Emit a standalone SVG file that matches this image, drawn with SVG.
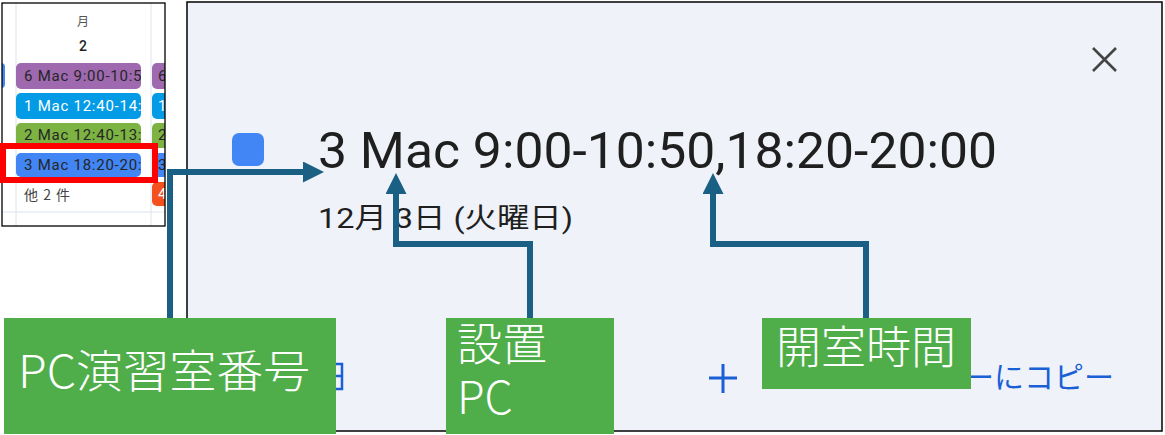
<svg xmlns="http://www.w3.org/2000/svg" width="1165" height="435" viewBox="0 0 1165 435">
<style>
.ev{font-family:Roboto,"Liberation Sans","Noto Sans CJK JP",sans-serif;font-size:15px;letter-spacing:0.75px}
.dk{fill:#262626}
.lbl{font-family:"Noto Sans CJK JP",sans-serif;font-weight:300;font-size:45px;fill:#ffffff}
.conn{fill:none;stroke:#1a6085;stroke-width:6}
.gbox{fill:#50ae4a}
</style>
<defs>
<marker id="ah" viewBox="0 0 20 20" markerUnits="userSpaceOnUse" markerWidth="21" markerHeight="21" refX="0" refY="10" orient="auto">
<path d="M0,0 L20,10 L0,20 z" fill="#1a6085"/>
</marker>
<clipPath id="thumb"><rect x="2" y="3" width="163" height="223"/></clipPath>
<clipPath id="c1"><rect x="16" y="63" width="125" height="26"/></clipPath>
<clipPath id="c2"><rect x="16" y="93" width="125" height="26"/></clipPath>
<clipPath id="c3"><rect x="16" y="123" width="125" height="25"/></clipPath>
<clipPath id="c4"><rect x="16" y="153" width="125" height="24"/></clipPath>
</defs>
<rect width="1165" height="435" fill="#ffffff"/>

<g id="calendar-thumb">
<rect x="2" y="3" width="163" height="223" fill="#ffffff"/>
<g clip-path="url(#thumb)">
<line x1="16" y1="3" x2="16" y2="226" stroke="#dde3ea" stroke-width="1"/>
<line x1="151" y1="3" x2="151" y2="226" stroke="#dde3ea" stroke-width="1"/>
<line x1="2" y1="212" x2="165" y2="212" stroke="#dde3ea" stroke-width="1"/>
<rect x="-6" y="63" width="11" height="25" rx="4" fill="#4285f4"/>
<text x="83" y="26" text-anchor="middle" font-family="'Noto Sans CJK JP',sans-serif" font-size="12" fill="#555">月</text>
<text x="83" y="51" text-anchor="middle" font-family="Roboto,sans-serif" font-size="14" font-weight="500" fill="#1f1f1f">2</text>
<rect x="16" y="63" width="125" height="26" rx="5" fill="#9e69af"/>
<text class="ev dk" x="24" y="81" clip-path="url(#c1)">6 Mac 9:00-10:5</text>
<rect x="16" y="93" width="125" height="26" rx="5" fill="#039be5"/>
<text class="ev" x="24" y="111" fill="#ffffff" clip-path="url(#c2)">1 Mac 12:40-14:5</text>
<rect x="16" y="123" width="125" height="25" rx="5" fill="#7cb342"/>
<text class="ev dk" x="24" y="140" clip-path="url(#c3)">2 Mac 12:40-13:1</text>
<rect x="16" y="153" width="125" height="24" rx="5" fill="#4285f4"/>
<text class="ev dk" x="24" y="170" clip-path="url(#c4)">3 Mac 18:20-20:</text>
<text x="24" y="200" font-family="'Noto Sans CJK JP',sans-serif" font-size="14" fill="#444" letter-spacing="1">他 2 件</text>
<rect x="152" y="63" width="30" height="26" rx="5" fill="#9e69af"/>
<text class="ev dk" x="158" y="81">6</text>
<rect x="152" y="93" width="30" height="26" rx="5" fill="#039be5"/>
<text class="ev" x="158" y="111" fill="#ffffff">1</text>
<rect x="152" y="123" width="30" height="25" rx="5" fill="#7cb342"/>
<text class="ev dk" x="158" y="140">2</text>
<rect x="152" y="153" width="30" height="24" rx="5" fill="#4285f4"/>
<text class="ev dk" x="158" y="170">3</text>
<rect x="152" y="182" width="30" height="24" rx="5" fill="#f4511e"/>
<text class="ev" x="158" y="199" fill="#ffffff">4</text>
</g>
<rect x="2" y="3" width="163" height="223" fill="none" stroke="#000" stroke-width="1.3"/>
</g>

<g id="highlight">
<rect x="3" y="146" width="152" height="34" fill="none" stroke="#ff0000" stroke-width="6"/>
</g>

<g id="detail-panel">
<rect x="187" y="2" width="975" height="429" fill="#eff2f8" stroke="#000" stroke-width="1.5"/>
<path d="M1093,48 L1116,71 M1116,48 L1093,71" stroke="#444" stroke-width="2.6" fill="none"/>
<rect x="232" y="133" width="32" height="33" rx="7" fill="#4285f4"/>
<text x="318" y="168" font-family="Roboto,'Liberation Sans',sans-serif" font-size="50" fill="#1f1f1f" textLength="679" lengthAdjust="spacingAndGlyphs">3 Mac 9:00-10:50,18:20-20:00</text>
<text x="318" y="228" font-family="Roboto,'Noto Sans CJK JP',sans-serif" font-size="28" fill="#1f1f1f" textLength="255" lengthAdjust="spacingAndGlyphs">12月 3日 (火曜日)</text>
<rect x="322" y="364" width="20" height="25" fill="none" stroke="#1a5fd6" stroke-width="2.5"/>
<line x1="322" y1="376" x2="342" y2="376" stroke="#1a5fd6" stroke-width="2.5"/>
<path d="M709,378 H737 M723,364 V393" stroke="#1a5fd6" stroke-width="3" fill="none"/>
<text x="1114" y="388" text-anchor="end" font-family="'Noto Sans CJK JP',sans-serif" font-size="30" fill="#1a5fd6">ーにコピー</text>
</g>

<g id="connectors">
<path class="conn" d="M170,320 V172 H303" marker-end="url(#ah)"/>
<path class="conn" d="M530,320 V244 H396 V194" marker-end="url(#ah)"/>
<path class="conn" d="M866,320 V244 H713 V194" marker-end="url(#ah)"/>
</g>

<g id="label-room">
<rect class="gbox" x="4" y="318" width="332" height="116"/>
<text class="lbl" x="18" y="388" textLength="292" lengthAdjust="spacingAndGlyphs">PC演習室番号</text>
</g>
<g id="label-pc">
<rect class="gbox" x="446" y="318" width="168" height="116"/>
<text class="lbl" x="457" y="361">設置</text>
<text class="lbl" x="457" y="414">PC</text>
</g>
<g id="label-time">
<rect class="gbox" x="762" y="318" width="209" height="71"/>
<text class="lbl" x="776" y="364">開室時間</text>
</g>
</svg>
